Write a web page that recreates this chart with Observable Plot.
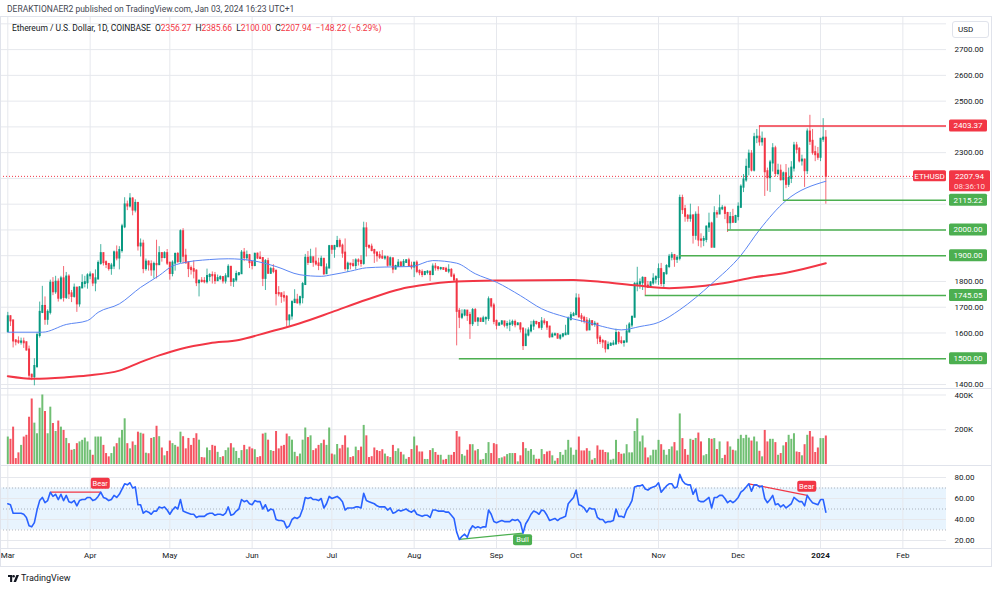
<!DOCTYPE html>
<html><head><meta charset="utf-8">
<script src="https://cdn.jsdelivr.net/npm/d3@7"></script>
<script src="https://cdn.jsdelivr.net/npm/@observablehq/plot@0.6"></script>
<style>
html,body{margin:0;padding:0;background:#fff;}
#wrap{position:relative;width:1000px;height:591px;overflow:hidden;font-family:Roboto,"Open Sans",sans-serif;color:#131722;background:#fff;}
.abs{position:absolute;white-space:nowrap;}
.line{position:absolute;background:#e0e3eb;pointer-events:none;}
.r{color:#f23645;}
</style></head><body>
<div id="wrap">
  <div class="abs" id="price" style="left:0;top:16px"></div>
  <div class="abs" id="vol" style="left:0;top:388px"></div>
  <div class="abs" id="rsi" style="left:0;top:465px"></div>
  <div class="line" style="left:0;top:16px;width:992px;height:1px"></div>
  <div class="line" style="left:0;top:388px;width:992px;height:1px"></div>
  <div class="line" style="left:0;top:465px;width:992px;height:1px"></div>
  <div class="line" style="left:0;top:548px;width:992px;height:1px"></div>
  <div class="line" style="left:0;top:566px;width:992px;height:1px"></div>
  <div class="line" style="left:0;top:16px;width:1px;height:551px"></div>
  <div class="line" style="left:991px;top:16px;width:1px;height:551px"></div>
  <div class="abs" style="left:7px;top:4px;font-size:8.5px;color:#434651">DERAKTIONAER2 published on TradingView.com, Jan 03, 2024 16:23 UTC+1</div>
  <div class="abs" style="left:12px;top:23px;font-size:8.5px;color:#131722;letter-spacing:-0.05px">Ethereum / U.S. Dollar, 1D, COINBASE&nbsp;&nbsp;O<span class="r">2356.27</span>&nbsp; H<span class="r">2385.66</span>&nbsp; L<span class="r">2100.00</span>&nbsp; C<span class="r">2207.94</span>&nbsp; <span class="r">−148.22 (−6.29%)</span></div>
  <div class="abs" style="left:952px;top:21px;width:37px;height:17px;border:1px solid #e0e3eb;border-radius:3px;box-sizing:border-box;font-size:8px;line-height:15px;padding-left:5px;background:#fff">USD</div>
  <div class="abs" style="left:8px;top:573px;font-size:9px;color:#131722;display:flex;align-items:center;gap:2px">
    <svg width="11" height="7" viewBox="0 0 11 7"><path d="M0 0h4.2v7h-2.1v-4.9h-2.1z" fill="#131722"/><circle cx="5.6" cy="1.3" r="1.3" fill="#131722"/><path d="M8.4 0h2.6l-3 7h-2.5z" fill="#131722"/></svg>
    <span>TradingView</span>
  </div>
</div>
<script>
// ---------------- DATA ----------------
const startDay = "2023-03-01";
const firstOpen = 1605;
const closes = [
 1663,1647,1569,1566,1564,1565,1562,1534,1436,1430,1470,1590,1680,1703,1653,1680,1793,1760,1797,1735,1810,1738,1817,1752,1742,1774,1713,1775,1792,1795,1822,
 1825,1794,1810,1870,1908,1873,1866,1850,1860,1911,1891,1920,2012,2097,2093,2120,2077,2103,1938,1945,1850,1875,1865,1845,1866,1865,1908,1893,1908,1871,
 1831,1871,1905,1877,1993,1898,1872,1850,1846,1840,1795,1801,1800,1799,1819,1823,1822,1803,1811,1815,1802,1818,1855,1800,1806,1827,1830,1910,1892,1900,1873,
 1862,1906,1891,1889,1812,1877,1832,1846,1839,1753,1752,1742,1739,1651,1666,1718,1727,1717,1737,1788,1890,1874,1892,1875,1868,1862,1886,1830,1852,1935,
 1925,1936,1955,1937,1910,1850,1867,1865,1862,1880,1878,1870,2004,1936,1933,1920,1910,1900,1894,1891,1892,1863,1888,1848,1858,1871,1860,1874,1880,1859,1856,
 1871,1839,1834,1827,1835,1836,1827,1856,1853,1850,1850,1847,1840,1843,1821,1806,1684,1661,1670,1685,1668,1636,1687,1646,1654,1645,1655,1656,1729,1705,1645,
 1630,1635,1643,1630,1633,1635,1641,1632,1635,1615,1551,1592,1608,1627,1641,1637,1622,1643,1640,1623,1585,1592,1593,1580,1588,1593,1596,1653,1667,1671,
 1732,1663,1657,1646,1612,1644,1633,1634,1580,1567,1565,1539,1552,1556,1557,1598,1566,1563,1565,1604,1631,1661,1789,1790,1795,1812,1782,1777,1794,1809,1815,
 1846,1792,1830,1858,1894,1900,1886,1890,2122,2079,2053,2045,2054,1979,2057,1961,1960,1963,2011,2023,1933,2063,2062,2082,2084,2064,2028,2048,2030,2052,
 2088,2166,2194,2243,2294,2232,2358,2360,2342,2352,2226,2203,2260,2315,2219,2228,2195,2218,2177,2200,2240,2326,2313,2268,2271,2230,2380,2344,2300,2292,2282,
 2352,2356.27,2207.94
];
const highs = [
 1680,1667,1647,1574,1585,1580,1580,1565,1549,1440,1500,1600,1720,1781,1740,1690,1805,1815,1820,1810,1820,1858,1835,1826,1765,1790,1777,1780,1826,1820,1830,
 1837,1830,1845,1880,1943,1910,1880,1870,1870,1918,1938,1935,2022,2125,2112,2141,2125,2117,2103,1965,1960,1887,1880,1880,1875,1960,1935,1912,1915,1924,
 1873,1880,1910,1912,2000,2005,1925,1875,1860,1880,1845,1805,1815,1815,1848,1830,1837,1835,1825,1822,1818,1830,1865,1855,1810,1840,1835,1920,1928,1918,1905,
 1878,1908,1910,1915,1890,1885,1890,1855,1865,1845,1780,1755,1760,1745,1670,1725,1768,1750,1743,1796,1905,1916,1925,1888,1930,1890,1898,1885,1868,1940,
 1940,1940,1975,1965,1945,1965,1875,1870,1885,1888,1888,1900,2030,2028,1942,1945,1925,1915,1915,1920,1900,1898,1895,1888,1863,1885,1878,1885,1885,1890,1875,
 1872,1880,1845,1845,1838,1842,1838,1868,1870,1857,1855,1852,1855,1865,1850,1830,1810,1695,1690,1690,1685,1680,1695,1695,1660,1657,1665,1663,1740,1732,1715,
 1650,1640,1648,1645,1645,1650,1650,1650,1640,1640,1620,1616,1620,1645,1650,1645,1640,1660,1655,1643,1625,1600,1600,1598,1592,1598,1630,1662,1680,1680,
 1752,1750,1675,1665,1660,1655,1648,1645,1637,1590,1575,1570,1565,1562,1570,1615,1605,1585,1570,1630,1640,1665,1795,1855,1810,1818,1810,1800,1800,1830,1822,
 1868,1870,1835,1865,1905,1912,1905,1900,2135,2135,2095,2060,2100,2060,2070,2090,1985,1975,2015,2065,2030,2090,2075,2135,2095,2092,2068,2068,2080,2057,
 2105,2175,2215,2275,2310,2308,2375,2390,2403.37,2380,2352,2240,2270,2335,2325,2255,2252,2225,2254,2240,2265,2340,2340,2320,2290,2275,2392,2445,2390,2325,2320,
 2355,2432,2385.66
];
const lows = [
 1601,1625,1542,1550,1556,1553,1540,1530,1422,1415,1395,1462,1580,1675,1630,1630,1670,1745,1750,1720,1728,1720,1730,1730,1718,1735,1680,1700,1772,1775,1770,
 1807,1780,1760,1805,1863,1860,1850,1840,1824,1846,1880,1845,1910,2005,2075,2085,2055,2066,1918,1895,1830,1840,1840,1820,1810,1810,1865,1875,1888,1862,
 1805,1818,1840,1870,1870,1868,1868,1815,1825,1810,1780,1740,1794,1791,1790,1800,1790,1788,1800,1803,1790,1790,1815,1780,1777,1797,1820,1828,1877,1880,1850,
 1845,1857,1885,1885,1780,1765,1827,1827,1830,1705,1740,1715,1720,1623,1626,1650,1715,1712,1705,1713,1787,1862,1870,1855,1860,1842,1856,1823,1828,1850,
 1905,1890,1930,1930,1890,1840,1835,1845,1855,1845,1860,1855,1863,1895,1925,1915,1870,1875,1885,1885,1882,1855,1862,1830,1845,1855,1855,1860,1870,1855,1845,
 1815,1830,1822,1815,1822,1825,1800,1822,1840,1840,1842,1845,1835,1830,1815,1800,1550,1617,1652,1663,1645,1575,1625,1640,1625,1642,1641,1631,1645,1697,1632,
 1612,1628,1630,1620,1615,1605,1625,1620,1630,1600,1532,1550,1585,1600,1610,1630,1615,1610,1630,1610,1578,1583,1590,1576,1572,1581,1590,1590,1646,1665,
 1671,1657,1640,1635,1605,1610,1625,1622,1555,1555,1540,1522,1535,1550,1550,1555,1555,1555,1545,1562,1600,1620,1660,1760,1770,1765,1745,1775,1774,1785,1790,
 1785,1780,1775,1825,1850,1880,1855,1870,1880,2060,2030,2030,2030,1945,1960,1935,1930,1935,1950,1990,1930,1930,2045,2060,2075,2040,1990,2000,2025,2025,
 2035,2083,2145,2185,2210,2225,2225,2335,2325,2325,2130,2150,2145,2225,2205,2210,2190,2115.22,2160,2165,2180,2225,2295,2260,2248,2165,2215,2328,2290,2265,2270,
 2265,2340,2100
];
const volumesK = [
 158,145,215,34,67,110,158,168,272,377,238,177,324,400,305,177,330,236,190,250,215,196,150,120,82,86,120,130,139,152,130,
 82,53,158,158,158,110,63,44,63,101,120,152,196,263,120,90,130,110,186,180,175,65,62,150,155,220,160,95,50,75,
 135,120,110,100,186,160,90,150,110,150,177,140,40,38,95,80,110,105,70,40,45,80,95,120,95,75,35,80,110,85,100,
 90,85,40,45,175,180,140,80,75,190,90,105,110,175,160,140,70,45,60,140,210,155,165,80,90,110,120,140,110,210,
 60,55,115,90,110,165,95,40,45,100,80,100,225,165,40,45,95,80,75,85,60,45,40,110,75,90,70,55,30,40,86,
 158,107,72,72,29,29,80,91,69,53,53,25,29,53,53,69,190,158,57,48,82,114,114,78,86,25,29,63,126,63,120,
 114,34,38,44,57,63,63,63,15,50,126,91,76,86,53,30,30,86,57,72,76,50,19,34,69,53,82,139,95,53,
 82,158,78,78,91,76,25,34,107,82,82,69,67,25,30,139,69,59,61,114,67,67,190,263,130,164,95,38,50,82,82,
 139,114,82,53,86,101,126,78,291,149,86,53,145,139,150,181,130,50,57,149,145,149,86,130,34,53,130,101,82,78,
 145,168,149,168,152,135,158,130,76,44,196,130,145,145,126,53,63,107,126,168,145,177,72,69,50,114,168,190,158,69,95,
 149,149,164
];
const rsiValues = [
 55,54,46,46,46,46,45,42,34,33,37,49,58,61,56,58,66,62,64,59,64,58,63,57,56,58,53,58,59,59,61,
 61,58,59,62,66,61,60,58,59,63,61,64,69,74,73,75,70,71,54,54,46,48,47,45,48,48,52,51,52,49,
 45,49,52,50,59,48,47,46,45,45,42,43,43,43,45,46,46,44,45,45,44,46,52,44,45,48,50,59,57,58,55,
 54,58,57,57,50,54,48,50,49,40,39,39,38,32,34,40,42,41,43,50,61,60,61,59,59,58,60,51,55,62,
 60,61,62,60,57,49,51,51,51,52,52,51,65,58,57,56,55,53,52,52,52,49,51,46,47,49,48,49,50,48,47,
 49,45,44,43,44,44,42,49,49,48,48,48,47,47,44,41,28,21,24,26,23,30,34,32,33,32,33,33,49,45,38,
 37,38,39,38,38,38,40,39,40,37,27,36,40,45,48,47,45,49,48,44,39,40,41,39,41,42,43,55,58,61,
 68,54,53,51,47,51,50,50,42,40,40,37,38,38,39,50,43,43,42,49,53,58,71,72,72,73,69,68,70,71,72,
 75,66,69,72,74,74,70,71,83,77,74,73,73,64,69,58,57,57,59,61,51,61,61,63,63,60,56,58,56,58,
 61,66,68,71,74,67,73,73,71,72,60,56,59,63,54,55,52,54,51,53,55,61,59,57,57,53,63,59,56,55,54,
 59,59,47
];
const sma50Dates = ["2023-03-01","2023-03-14","2023-03-23","2023-03-31","2023-04-04","2023-04-12","2023-04-20","2023-04-27","2023-05-02","2023-05-05","2023-05-16","2023-05-23","2023-06-01","2023-06-10","2023-06-19","2023-06-27","2023-07-01","2023-07-08","2023-07-14","2023-07-21","2023-07-31","2023-08-08","2023-08-17","2023-08-24","2023-09-01","2023-09-10","2023-09-18","2023-09-27","2023-10-05","2023-10-11","2023-10-18","2023-10-25","2023-11-01","2023-11-09","2023-11-21","2023-12-02","2023-12-09","2023-12-19","2024-01-03"];
const sma50Values = [1603,1603,1633,1648,1680,1713,1777,1823,1860,1870,1885,1888,1881,1858,1826,1820,1826,1840,1853,1856,1858,1881,1871,1830,1797,1745,1694,1662,1642,1625,1612,1625,1641,1690,1791,1901,2000,2114,2189];
const sma200Dates = ["2023-03-01","2023-03-11","2023-03-23","2023-03-31","2023-04-12","2023-04-20","2023-04-27","2023-05-05","2023-05-16","2023-05-27","2023-06-07","2023-06-19","2023-07-01","2023-07-14","2023-07-27","2023-08-03","2023-08-17","2023-09-05","2023-09-30","2023-10-12","2023-10-24","2023-11-05","2023-11-24","2023-12-07","2023-12-20","2024-01-03"];
const sma200Values = [1432,1422,1428,1435,1454,1487,1513,1538,1560,1573,1603,1638,1681,1729,1771,1784,1800,1804,1806,1797,1784,1774,1791,1816,1836,1871];
const levelValues = [2403.37, 2115.22, 2000.00, 1900.00, 1745.05, 1500.00];
const levelFrom = ["2023-12-09","2023-12-18","2023-11-27","2023-11-09","2023-10-27","2023-08-18"];
const levelKinds = ["resistance","support","support","support","support","support"];
const divFrom = ["2023-03-17","2023-08-18","2023-12-05"];
const divTo = ["2023-04-05","2023-09-11","2023-12-27"];
const divFromRsi = [66, 21, 74];
const divToRsi = [66, 27, 63];
const divKinds = ["Bear","Bull","Bear"];
const priceGrid = [1400,1500,1600,1700,1800,1900,2000,2100,2200,2300,2400,2500,2600,2700,2800];
// axis labels left visible in the reference (others sit under the price tags)
const priceLabels = [1400,1600,1700,1800,2300,2500,2600,2700];
const volumeTicks = [200000, 400000];
const volumeTickLabels = ["200K","400K"];
const rsiTicks = [20, 40, 60, 80];
const rsiUpper = 70, rsiMiddle = 50, rsiLower = 30;
const monthTicks = ["2023-03-01","2023-04-01","2023-05-01","2023-06-01","2023-07-01","2023-08-01","2023-09-01","2023-10-01","2023-11-01","2023-12-01","2024-01-01","2024-02-01"];
const monthLabels = ["Mar","Apr","May","Jun","Jul","Aug","Sep","Oct","Nov","Dec","2024","Feb"];
const symbolName = "ETHUSD";
const lastPrice = 2207.94;
const countdown = "08:36:10";

// ---------------- BUILD ----------------
const FONT = "Roboto, 'Open Sans', sans-serif";
const GREEN = "#089981", RED = "#f23645", LGREEN = "#4caf50", GRID = "#e6e8ed";
const day = 864e5;
const t0 = new Date(startDay);
const xDomain = [new Date(+t0 - 2.75 * day), new Date(+t0 + 353.43 * day)];
const W = 1000, MR = 54;

const candles = closes.map((c, i) => ({
  date: d3.utcDay.offset(t0, i),
  open: i === 0 ? firstOpen : closes[i - 1],
  close: c, high: highs[i], low: lows[i],
  volume: volumesK[i] * 1000, rsi: rsiValues[i]
}));
const up = d => d.close >= d.open;
const down = d => d.close < d.open;
const months = monthTicks.map(d => new Date(d));
const monthRows = months.map((d, i) => ({d, label: monthLabels[i], year: /^\d{4}$/.test(monthLabels[i])}));
const sma50 = sma50Dates.map((d, i) => ({date: new Date(d), v: sma50Values[i]}));
const sma200 = sma200Dates.map((d, i) => ({date: new Date(d), v: sma200Values[i]}));
const levels = levelValues.map((v, i) => ({v, from: new Date(levelFrom[i]), kind: levelKinds[i]}));
const divs = divKinds.map((k, i) => ({kind: k, x1: new Date(divFrom[i]), x2: new Date(divTo[i]), y1: divFromRsi[i], y2: divToRsi[i]}));

const baseStyle = {background: "transparent", overflow: "hidden", fontFamily: FONT, fontSize: "8px", color: "#131722"};

function priceTags(index, scales, values, dims) {
  const g = d3.create("svg:g").attr("font-family", FONT).attr("font-size", 8);
  const xr = dims.width - dims.marginRight;
  levels.forEach(l => {
    const y = scales.y(l.v);
    const c = l.kind === "resistance" ? RED : LGREEN;
    g.append("rect").attr("x", xr + 3).attr("y", y - 6).attr("width", 38).attr("height", 12).attr("rx", 1.5).attr("fill", c);
    g.append("text").attr("x", xr + 22).attr("y", y).attr("dy", "0.35em").attr("text-anchor", "middle").attr("fill", "#fff").text(l.v.toFixed(2));
  });
  const yp = scales.y(lastPrice);
  g.append("rect").attr("x", xr - 33).attr("y", yp - 5.5).attr("width", 33).attr("height", 11).attr("rx", 1.5).attr("fill", RED);
  g.append("text").attr("x", xr - 16.5).attr("y", yp).attr("dy", "0.35em").attr("text-anchor", "middle").attr("fill", "#fff").text(symbolName);
  g.append("rect").attr("x", xr + 3).attr("y", yp - 5.5).attr("width", 41).attr("height", 21).attr("rx", 1.5).attr("fill", RED);
  g.append("text").attr("x", xr + 23.5).attr("y", yp).attr("dy", "0.35em").attr("text-anchor", "middle").attr("fill", "#fff").text(lastPrice.toFixed(2));
  g.append("text").attr("x", xr + 23.5).attr("y", yp + 10).attr("dy", "0.35em").attr("text-anchor", "middle").attr("fill", "#ffd9dc").text(countdown);
  return g.node();
}

const pricePlot = Plot.plot({
  width: W, height: 372, marginTop: 0, marginBottom: 0, marginLeft: 0, marginRight: MR,
  x: {type: "utc", domain: xDomain, axis: null},
  y: {domain: [1384.5, 2828.5], axis: null},
  style: baseStyle,
  marks: [
    Plot.ruleX(months, {stroke: GRID}),
    Plot.ruleY(priceGrid, {stroke: GRID}),
    Plot.text(priceLabels, {y: d => d, text: d => d.toFixed(2), frameAnchor: "right", textAnchor: "start", dx: 8, fontSize: 8, fill: "#131722"}),
    Plot.ruleX(candles, {filter: up, x: "date", y1: "low", y2: "high", stroke: GREEN, strokeWidth: 1, strokeOpacity: 0.75}),
    Plot.ruleX(candles, {filter: down, x: "date", y1: "low", y2: "high", stroke: RED, strokeWidth: 1, strokeOpacity: 0.75}),
    Plot.ruleX(candles, {filter: up, x: "date", y1: "open", y2: "close", stroke: GREEN, strokeWidth: 2, strokeLinecap: "square"}),
    Plot.ruleX(candles, {filter: down, x: "date", y1: "open", y2: "close", stroke: RED, strokeWidth: 2, strokeLinecap: "square"}),
    Plot.line(sma200, {x: "date", y: "v", stroke: RED, strokeWidth: 2, curve: "monotone-x"}),
    Plot.line(sma50, {x: "date", y: "v", stroke: "#5b86f3", strokeWidth: 1, curve: "monotone-x"}),
    Plot.ruleY(levels, {y: "v", x1: "from", x2: () => xDomain[1], stroke: d => d.kind === "resistance" ? RED : LGREEN, strokeWidth: 1.5}),
    Plot.ruleY([lastPrice], {stroke: RED, strokeDasharray: "1,2", strokeWidth: 1}),
    priceTags
  ],
  color: {type: "identity"}
});
document.getElementById("price").append(pricePlot);

const volPlot = Plot.plot({
  width: W, height: 77, marginTop: 0, marginBottom: 0, marginLeft: 0, marginRight: MR,
  x: {type: "utc", domain: xDomain, axis: null},
  y: {domain: [-5800, 437400], axis: null},
  style: baseStyle,
  marks: [
    Plot.ruleX(months, {stroke: GRID}),
    Plot.ruleY(volumeTicks, {stroke: GRID}),
    Plot.text(volumeTicks, {y: d => d, text: (d, i) => volumeTickLabels[i], frameAnchor: "right", textAnchor: "start", dx: 8, fontSize: 8, fill: "#131722"}),
    Plot.ruleX(candles, {filter: up, x: "date", y1: 0, y2: "volume", stroke: "#4caf50", strokeOpacity: 0.8, strokeWidth: 2}),
    Plot.ruleX(candles, {filter: down, x: "date", y1: 0, y2: "volume", stroke: RED, strokeOpacity: 0.85, strokeWidth: 2})
  ]
});
document.getElementById("vol").append(volPlot);

function divTags(index, scales, values, dims) {
  const g = d3.create("svg:g").attr("font-family", FONT).attr("font-size", 7.5);
  divs.forEach(d => {
    const x = scales.x(d.x2), y = scales.y(d.y2);
    const c = d.kind === "Bear" ? RED : LGREEN;
    const top = d.kind === "Bear" ? y - 14 : y + 1.5;
    g.append("rect").attr("x", x - 9.5).attr("y", top).attr("width", 19).attr("height", 11).attr("rx", 2).attr("fill", c);
    g.append("text").attr("x", x).attr("y", top + 5.5).attr("dy", "0.35em").attr("text-anchor", "middle").attr("fill", "#fff").text(d.kind);
  });
  return g.node();
}

const rsiPlot = Plot.plot({
  width: W, height: 101, marginTop: 0, marginBottom: 18, marginLeft: 0, marginRight: MR,
  x: {type: "utc", domain: xDomain, axis: null},
  y: {domain: [12.38, 91.43], axis: null},
  style: baseStyle,
  marks: [
    Plot.rect([{lo: rsiLower, hi: rsiUpper}], {x1: () => xDomain[0], x2: () => xDomain[1], y1: "lo", y2: "hi", fill: "#2196f3", fillOpacity: 0.1}),
    Plot.ruleX(months, {stroke: GRID}),
    Plot.ruleY(rsiTicks, {stroke: GRID}),
    Plot.ruleY([rsiUpper, rsiMiddle, rsiLower], {stroke: "#787b86", strokeOpacity: 0.55, strokeDasharray: "1,2"}),
    Plot.text(rsiTicks, {y: d => d, text: d => d.toFixed(2), frameAnchor: "right", textAnchor: "start", dx: 8, fontSize: 8, fill: "#131722"}),
    Plot.text(monthRows, {filter: r => !r.year, x: "d", text: "label", frameAnchor: "bottom", dy: 9, fontSize: 8, fill: "#131722"}),
    Plot.text(monthRows, {filter: r => r.year, x: "d", text: "label", frameAnchor: "bottom", dy: 9, fontSize: 8, fontWeight: "bold", fill: "#131722"}),
    Plot.link(divs, {x1: "x1", y1: "y1", x2: "x2", y2: "y2", stroke: d => d.kind === "Bear" ? RED : LGREEN, strokeWidth: 1.3}),
    Plot.line(candles, {x: "date", y: "rsi", stroke: "#2962ff", strokeWidth: 1.6}),
    divTags
  ],
  color: {type: "identity"}
});
document.getElementById("rsi").append(rsiPlot);
</script>
</body></html>
